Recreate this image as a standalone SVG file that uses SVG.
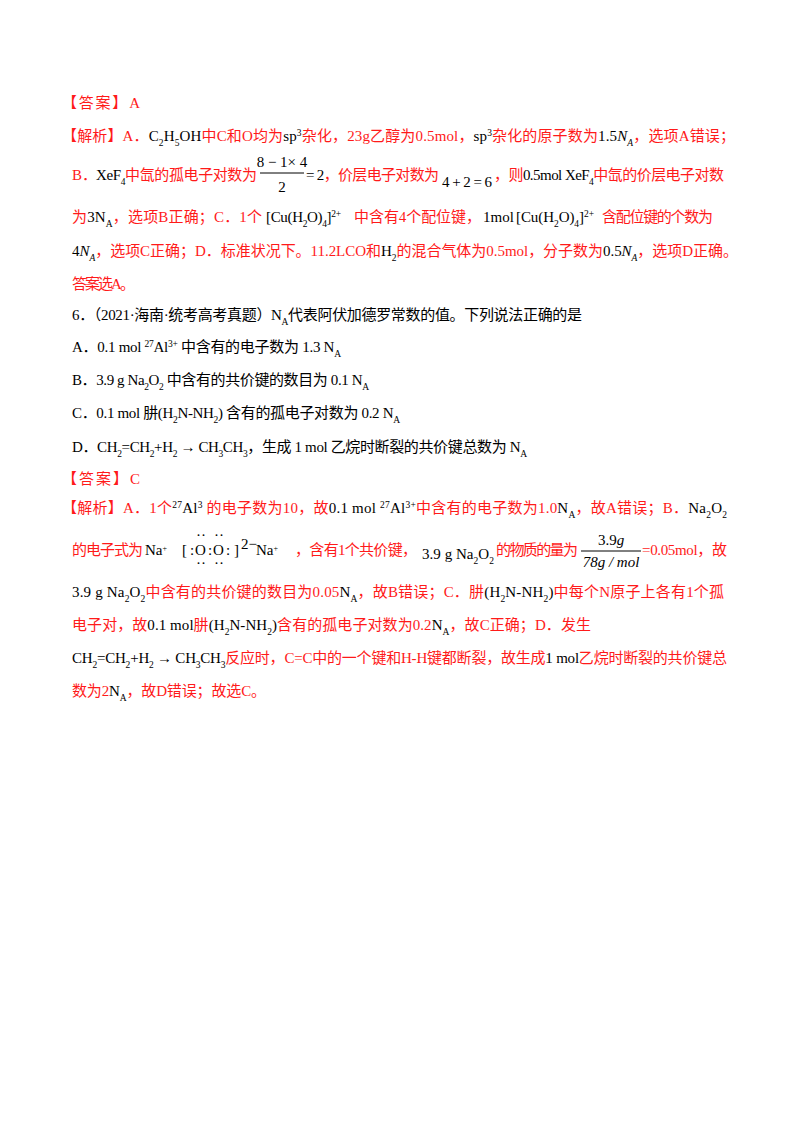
<svg xmlns="http://www.w3.org/2000/svg" width="800" height="1132" viewBox="0 0 800 1132">
<style>
text{font-family:"Liberation Serif","Noto Sans CJK SC",serif;font-size:15px;fill:#000}
.r{fill:#ff1a1a}
.k{fill:#000}
.s{font-size:9.5px}
</style>
<rect width="800" height="1132" fill="#fff"/>
<g id="answer5">
<text x="62" y="108" class="r" textLength="78" lengthAdjust="spacing">【答案】A</text>
<text x="62" y="141" textLength="673" lengthAdjust="spacing"><tspan class="r">【解析】A．</tspan><tspan class="k">C<tspan baseline-shift="sub" class="s">2</tspan>H<tspan baseline-shift="sub" class="s">5</tspan>OH</tspan><tspan class="r">中C和O均为</tspan><tspan class="k">sp<tspan baseline-shift="super" class="s">3</tspan></tspan><tspan class="r">杂化，23g乙醇为0.5mol，</tspan><tspan class="k">sp<tspan baseline-shift="super" class="s">3</tspan></tspan><tspan class="r">杂化的原子数为</tspan><tspan class="k">1.5<tspan font-style="italic">N</tspan><tspan baseline-shift="sub" class="s" font-style="italic">A</tspan></tspan><tspan class="r">，选项A错误；</tspan></text>
<text x="72" y="180" class="r">B．</text>
<text x="96" y="180" textLength="161" lengthAdjust="spacing"><tspan class="k">XeF<tspan baseline-shift="sub" class="s">4</tspan></tspan><tspan class="r">中氙的孤电子对数为</tspan></text>
<text x="282" y="167" class="k" text-anchor="middle">8 − 1× 4</text>
<line x1="260" y1="173" x2="304" y2="173" stroke="#000" stroke-width="1"/>
<text x="282" y="192" class="k" text-anchor="middle">2</text>
<text x="306" y="180" textLength="133" lengthAdjust="spacing"><tspan class="k">= 2</tspan><tspan class="r">，价层电子对数为</tspan></text>
<text x="442" y="187" class="k" textLength="50" lengthAdjust="spacing">4 + 2 = 6</text>
<text x="494" y="180" textLength="230" lengthAdjust="spacing"><tspan class="r">，则</tspan><tspan class="k">0.5mol XeF<tspan baseline-shift="sub" class="s">4</tspan></tspan><tspan class="r">中氙的价层电子对数</tspan></text>
<text x="72" y="222" textLength="190" lengthAdjust="spacing"><tspan class="r">为</tspan><tspan class="k">3N<tspan baseline-shift="sub" class="s">A</tspan></tspan><tspan class="r">，选项B正确；C．1个</tspan></text>
<text x="266" y="222" class="k" font-size="16" textLength="75" lengthAdjust="spacing">[Cu(H<tspan baseline-shift="sub" class="s">2</tspan>O)<tspan baseline-shift="sub" class="s">4</tspan>]<tspan baseline-shift="super" class="s">2+</tspan></text>
<text x="354" y="222" class="r" textLength="127" lengthAdjust="spacing">中含有4个配位键，</text>
<text x="483" y="222" class="k">1mol</text>
<text x="516" y="222" class="k" font-size="16" textLength="78" lengthAdjust="spacing">[Cu(H<tspan baseline-shift="sub" class="s">2</tspan>O)<tspan baseline-shift="sub" class="s">4</tspan>]<tspan baseline-shift="super" class="s">2+</tspan></text>
<text x="602" y="222" class="r" textLength="111" lengthAdjust="spacing">含配位键的个数为</text>
<text x="72" y="256" textLength="666" lengthAdjust="spacing"><tspan class="k">4<tspan font-style="italic">N</tspan><tspan baseline-shift="sub" class="s" font-style="italic">A</tspan></tspan><tspan class="r">，选项C正确；D．标准状况下。11.2LCO和</tspan><tspan class="k">H<tspan baseline-shift="sub" class="s">2</tspan></tspan><tspan class="r">的混合气体为0.5mol，分子数为</tspan><tspan class="k">0.5<tspan font-style="italic">N</tspan><tspan baseline-shift="sub" class="s" font-style="italic">A</tspan></tspan><tspan class="r">，选项D正确。</tspan></text>
<text x="72" y="289" class="r" textLength="63" lengthAdjust="spacing">答案选A。</text>
</g>
<g id="question6">
<text x="72" y="320" textLength="510" lengthAdjust="spacing">6．（2021·海南·统考高考真题）N<tspan baseline-shift="sub" class="s">A</tspan>代表阿伏加德罗常数的值。下列说法正确的是</text>
<text x="72" y="352" textLength="269" lengthAdjust="spacing">A．0.1 mol <tspan baseline-shift="super" class="s">27</tspan>Al<tspan baseline-shift="super" class="s">3+</tspan> 中含有的电子数为 1.3 N<tspan baseline-shift="sub" class="s">A</tspan></text>
<text x="72" y="385" textLength="297" lengthAdjust="spacing">B．3.9 g Na<tspan baseline-shift="sub" class="s">2</tspan>O<tspan baseline-shift="sub" class="s">2</tspan> 中含有的共价键的数目为 0.1 N<tspan baseline-shift="sub" class="s">A</tspan></text>
<text x="72" y="418" textLength="328" lengthAdjust="spacing">C．0.1 mol 肼(H<tspan baseline-shift="sub" class="s">2</tspan>N-NH<tspan baseline-shift="sub" class="s">2</tspan>) 含有的孤电子对数为 0.2 N<tspan baseline-shift="sub" class="s">A</tspan></text>
<text x="72" y="452" textLength="455" lengthAdjust="spacing">D．CH<tspan baseline-shift="sub" class="s">2</tspan>=CH<tspan baseline-shift="sub" class="s">2</tspan>+H<tspan baseline-shift="sub" class="s">2</tspan> → CH<tspan baseline-shift="sub" class="s">3</tspan>CH<tspan baseline-shift="sub" class="s">3</tspan>，生成 1 mol 乙烷时断裂的共价键总数为 N<tspan baseline-shift="sub" class="s">A</tspan></text>
</g>
<g id="answer6">
<text x="62" y="484" class="r" textLength="78" lengthAdjust="spacing">【答案】C</text>
<text x="62" y="513" textLength="665" lengthAdjust="spacing"><tspan class="r">【解析】A．1个</tspan><tspan class="k"><tspan baseline-shift="super" class="s">27</tspan>Al<tspan baseline-shift="super" class="s">3</tspan></tspan><tspan class="r"> 的电子数为10，故</tspan><tspan class="k">0.1 mol <tspan baseline-shift="super" class="s">27</tspan>Al<tspan baseline-shift="super" class="s">3+</tspan></tspan><tspan class="r">中含有的电子数为1.0</tspan><tspan class="k">N<tspan baseline-shift="sub" class="s">A</tspan></tspan><tspan class="r">，故A错误；B．</tspan><tspan class="k">Na<tspan baseline-shift="sub" class="s">2</tspan>O<tspan baseline-shift="sub" class="s">2</tspan></tspan></text>
<text x="72" y="555" class="r" textLength="71" lengthAdjust="spacing">的电子式为</text>
<g font-family="Liberation Sans" class="k">
<text x="145" y="555" font-size="13">Na<tspan baseline-shift="super" font-size="8">+</tspan></text>
<text x="182" y="555" font-size="13">[</text>
<text x="190" y="555" font-size="13">:</text>
<text x="195" y="555" font-size="13">O</text>
<text x="208" y="555" font-size="13">:</text>
<text x="213" y="555" font-size="13">O</text>
<text x="226" y="555" font-size="13">:</text>
<text x="234" y="555" font-size="13">]</text>
<text x="241" y="549" font-size="8">2−</text>
<text x="256" y="555" font-size="13">Na<tspan baseline-shift="super" font-size="8">+</tspan></text>
<text x="196" y="540" font-size="9">··</text>
<text x="214" y="540" font-size="9">··</text>
<text x="196" y="568" font-size="9">··</text>
<text x="214" y="568" font-size="9">··</text>
</g>
<text x="295" y="555" class="r" textLength="122" lengthAdjust="spacing">，含有1个共价键，</text>
<text x="422" y="559" class="k" textLength="72" lengthAdjust="spacing">3.9 g Na<tspan baseline-shift="sub" class="s">2</tspan>O<tspan baseline-shift="sub" class="s">2</tspan></text>
<text x="496" y="555" class="r" textLength="82" lengthAdjust="spacing">的物质的量为</text>
<text x="611" y="545" class="k" text-anchor="middle">3.9<tspan font-style="italic">g</tspan></text>
<line x1="581" y1="551" x2="641" y2="551" stroke="#000" stroke-width="1"/>
<text x="611" y="567" class="k" text-anchor="middle" font-style="italic">78g / mol</text>
<text x="642" y="555" class="r" textLength="85" lengthAdjust="spacing">=0.05mol，故</text>
<text x="72" y="597" textLength="652" lengthAdjust="spacing"><tspan class="k">3.9 g Na<tspan baseline-shift="sub" class="s">2</tspan>O<tspan baseline-shift="sub" class="s">2</tspan></tspan><tspan class="r">中含有的共价键的数目为0.05</tspan><tspan class="k">N<tspan baseline-shift="sub" class="s">A</tspan></tspan><tspan class="r">，故B错误；C．肼</tspan><tspan class="k">(H<tspan baseline-shift="sub" class="s">2</tspan>N-NH<tspan baseline-shift="sub" class="s">2</tspan>)</tspan><tspan class="r">中每个N原子上各有1个孤</tspan></text>
<text x="72" y="630" textLength="519" lengthAdjust="spacing"><tspan class="r">电子对，故</tspan><tspan class="k">0.1 mol</tspan><tspan class="r">肼</tspan><tspan class="k">(H<tspan baseline-shift="sub" class="s">2</tspan>N-NH<tspan baseline-shift="sub" class="s">2</tspan>)</tspan><tspan class="r">含有的孤电子对数为0.2</tspan><tspan class="k">N<tspan baseline-shift="sub" class="s">A</tspan></tspan><tspan class="r">，故C正确；D．发生</tspan></text>
<text x="72" y="663" textLength="655" lengthAdjust="spacing"><tspan class="k">CH<tspan baseline-shift="sub" class="s">2</tspan>=CH<tspan baseline-shift="sub" class="s">2</tspan>+H<tspan baseline-shift="sub" class="s">2</tspan> → CH<tspan baseline-shift="sub" class="s">3</tspan>CH<tspan baseline-shift="sub" class="s">3</tspan></tspan><tspan class="r">反应时，C=C中的一个键和H-H键都断裂，故生成</tspan><tspan class="k">1 mol</tspan><tspan class="r">乙烷时断裂的共价键总</tspan></text>
<text x="72" y="696" textLength="194" lengthAdjust="spacing"><tspan class="r">数为2</tspan><tspan class="k">N<tspan baseline-shift="sub" class="s">A</tspan></tspan><tspan class="r">，故D错误；故选C。</tspan></text>
</g>
</svg>
